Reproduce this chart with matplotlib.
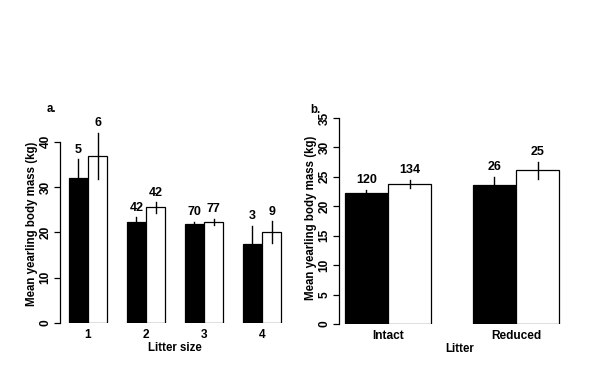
import matplotlib
matplotlib.use("Agg")
import matplotlib.pyplot as plt
import numpy as np

plt.rcParams['font.family'] = ['Liberation Sans', 'DejaVu Sans']

# Panel a data
litter_sizes = ["1", "2", "3", "4"]
a_black_mean = [32.1, 22.2, 21.8, 17.4]
a_black_se = [4.0, 1.1, 0.6, 4.1]
a_white_mean = [36.9, 25.5, 22.3, 20.1]
a_white_se = [5.1, 1.2, 0.7, 2.4]
a_black_n = ["5", "42", "70", "3"]
a_white_n = ["6", "42", "77", "9"]

# Panel b data
litter_types = ["Intact", "Reduced"]
b_black_mean = [22.2, 23.7]
b_black_se = [0.6, 1.3]
b_white_mean = [23.8, 26.1]
b_white_se = [0.7, 1.5]
b_black_n = ["120", "26"]
b_white_n = ["134", "25"]

W, H = 602, 373
fig = plt.figure(figsize=(W / 100, H / 100), dpi=100)

FS_TICK = 8.6
FS_N = 9
FS_LAB = 8.3

def px_axes(x0, x1, y_top, y_bot):
    return fig.add_axes([x0 / W, 1 - y_bot / H, (x1 - x0) / W, (y_bot - y_top) / H])

def draw(ax, cats, bm, bse, wm, wse, bn, wn, bw, ymax_axis, yticks, xlabel, ylabel):
    x = np.arange(1, len(cats) + 1)
    ax.bar(x - bw / 2, bm, width=bw, color='black', edgecolor='black', linewidth=0.9)
    ax.bar(x + bw / 2, wm, width=bw, color='white', edgecolor='black', linewidth=0.9)
    for xs, ms, ss, ns in ((x - bw / 2, bm, bse, bn), (x + bw / 2, wm, wse, wn)):
        for xi, m, s, n in zip(xs, ms, ss, ns):
            ax.plot([xi, xi], [m - s, m + s], color='black', lw=1.0)
            ax.annotate(n, (xi, m + s), xytext=(0, 2.5), textcoords='offset points',
                        ha='center', va='bottom', fontsize=FS_N, fontweight='bold',
                        annotation_clip=False)
    for sp in ['top', 'right', 'bottom']:
        ax.spines[sp].set_visible(False)
    ax.spines['left'].set_bounds(0, ymax_axis)
    ax.spines['left'].set_linewidth(0.9)
    ax.set_yticks(yticks)
    ax.set_yticklabels([str(t) for t in yticks], rotation=90, va='center',
                       fontsize=FS_TICK, fontweight='bold')
    ax.tick_params(axis='y', direction='out', length=4, width=0.9, pad=2)
    ax.set_xticks(x)
    ax.set_xticklabels(cats, fontsize=FS_TICK, fontweight='bold')
    ax.tick_params(axis='x', length=0, pad=4)
    ax.set_xlabel(xlabel, fontsize=FS_LAB, fontweight='bold', labelpad=1)
    ax.set_ylabel(ylabel, fontsize=FS_LAB, fontweight='bold', labelpad=1)
    ax.patch.set_visible(False)

# Panel a
ua = 58.0
axa = px_axes(60, 290, 323 - 44 * 4.53, 323)
draw(axa, litter_sizes, a_black_mean, a_black_se, a_white_mean, a_white_se,
     a_black_n, a_white_n, 0.336, 40, [0, 10, 20, 30, 40], "Litter size",
     "Mean yearling body mass (kg)")
axa.set_xlim(1 - 28 / ua, 1 + 202 / ua)
axa.set_ylim(0, 44)
fig.text(47 / W, 1 - 109 / H, "a.", fontsize=FS_LAB, fontweight='bold', ha='left', va='center')

# Panel b
ub = 128.0
axb = px_axes(339, 580, 324 - 36 * 5.886, 324)
draw(axb, litter_types, b_black_mean, b_black_se, b_white_mean, b_white_se,
     b_black_n, b_white_n, 0.336, 35, [0, 5, 10, 15, 20, 25, 30, 35], "Litter",
     "Mean yearling body mass (kg)")
axb.set_xlim(1 - 49 / ub, 2 + 64 / ub)
axb.set_ylim(0, 36)
fig.text(310 / W, 1 - 110 / H, "b.", fontsize=FS_LAB, fontweight='bold', ha='left', va='center')

fig.savefig("out.png", dpi=100, facecolor='white')
